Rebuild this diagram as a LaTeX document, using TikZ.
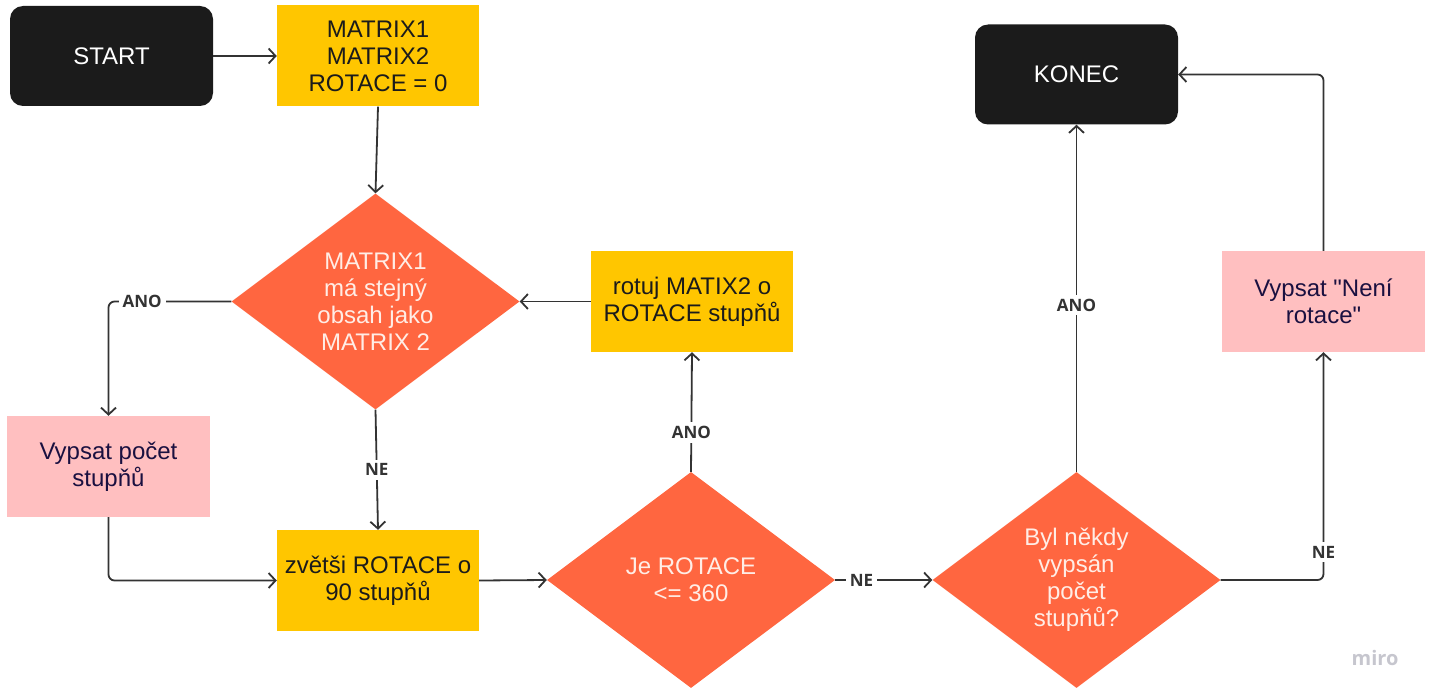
\documentclass[tikz,border=0pt]{standalone}
\usepackage{fontspec}
\setmainfont{Liberation Sans}[Ligatures=TeXOff]
\newfontfamily\lblfont{Open Sans}
\usetikzlibrary{shapes.geometric,arrows.meta}
\definecolor{termc}{HTML}{1B1B1B}
\definecolor{yel}{HTML}{FFC600}
\definecolor{ora}{HTML}{FF6640}
\definecolor{pnk}{HTML}{FFBFC0}
\definecolor{lnc}{HTML}{333333}
\definecolor{navy}{HTML}{1A1040}
\definecolor{dtxt}{HTML}{FFEDE6}
\definecolor{wmc}{HTML}{C6C6CE}
\begin{document}
\begin{tikzpicture}[x=1pt,y=-1pt,
  every node/.style={font=\fontsize{24}{27}\selectfont},
  term/.style={rectangle, rounded corners=13pt, fill=termc, text=white, minimum width=203pt, minimum height=100pt},
  proc/.style={rectangle, fill=yel, text=termc, minimum width=202pt, minimum height=101pt, align=center},
  outp/.style={rectangle, fill=pnk, text=navy, minimum width=203pt, minimum height=101pt, align=center},
  dec/.style={diamond, fill=ora, text=dtxt, minimum width=288pt, minimum height=216pt, inner sep=0pt, aspect=1.335, align=center},
  conn/.style={draw=lnc, line width=1.8pt, -{Straight Barb[length=7pt,width=15pt,line width=1.8pt]}},
  lbl/.style={fill=white, text=lnc, font=\lblfont\bfseries\fontsize{17}{19}\selectfont, inner sep=4pt, rounded corners=0pt}
]
\useasboundingbox (0,0) rectangle (1430,698);
\node[term] (start) at (111.5,56) {START};
\node[proc] (init) at (378,56) {MATRIX1\\MATRIX2\\ROTACE = 0};
\node[dec] (cmp) at (375.5,301.5) {MATRIX1\\má stejný\\obsah jako\\MATRIX 2};
\node[proc] (rot) at (692,301.5) {rotuj MATIX2 o\\ROTACE stupňů};
\node[outp] (pvs) at (108.5,466.5) {Vypsat počet\\stupňů};
\node[proc] (inc) at (378,580.5) {zvětši ROTACE o\\90 stupňů};
\node[dec] (chk) at (691,580) {Je ROTACE\\<= 360};
\node[dec] (was) at (1076.5,580) {Byl někdy\\vypsán\\počet\\stupňů?};
\node[term] (end) at (1076.5,74.5) {KONEC};
\node[outp] (nr) at (1323.5,301.5) {Vypsat "Není\\rotace"};
\node[text=wmc, font=\lblfont\bfseries\fontsize{20}{22}\selectfont] (wm) at (1375,658) {miro};

\draw[conn] (start.east) -- (init.west);
\draw[conn] (init.south) -- (cmp.north);
\draw[conn] (rot.west) -- (cmp.east);
\draw[conn, rounded corners=6pt] (cmp.west) -| node[lbl, pos=0.363] {ANO} (pvs.north);
\draw[conn] (cmp.south) -- node[lbl, pos=0.5] {NE} (inc.north);
\draw[conn, rounded corners=6pt] (pvs.south) |- (inc.west);
\draw[conn] (inc.east) -- (chk.west);
\draw[conn] (chk.north) -- node[lbl, pos=0.33] {ANO} (rot.south);
\draw[conn] (chk.east) -- node[lbl, pos=0.27] {NE} (was.west);
\draw[conn] (was.north) -- node[lbl, pos=0.48] {ANO} (end.south);
\draw[conn, rounded corners=6pt] (was.east) -| node[lbl, pos=0.561] {NE} (nr.south);
\draw[conn, rounded corners=6pt] (nr.north) |- (end.east);
\end{tikzpicture}
\end{document}
